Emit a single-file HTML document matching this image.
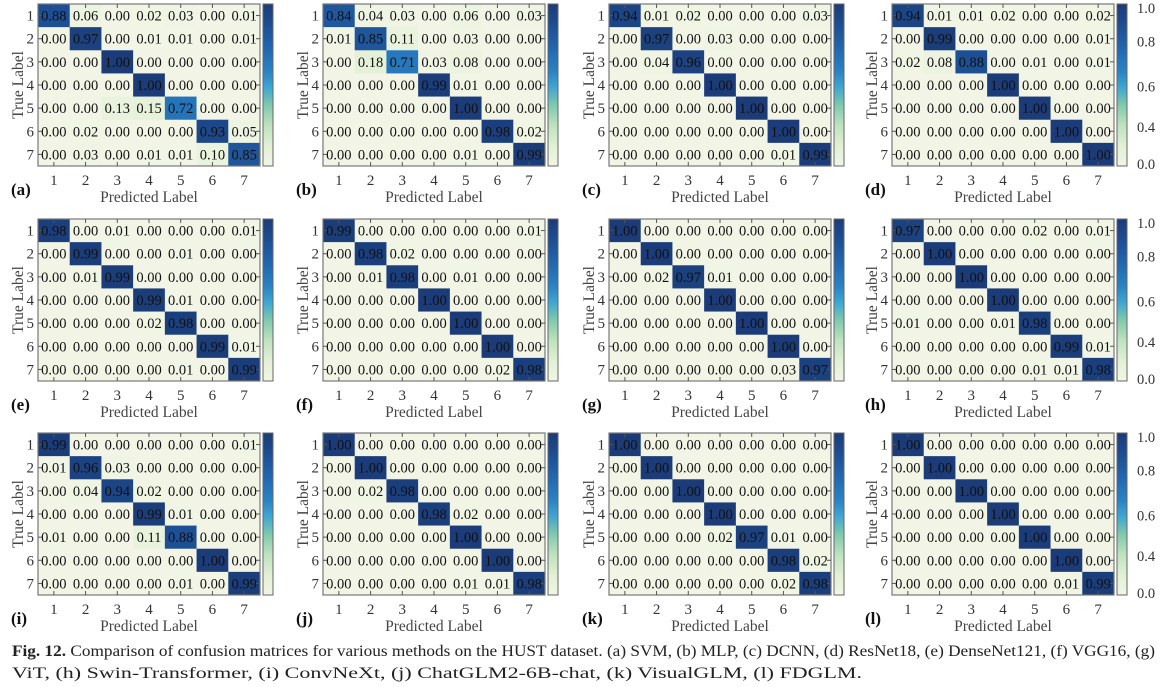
<!DOCTYPE html>
<html><head><meta charset="utf-8">
<style>
html,body{margin:0;padding:0;background:#fff;}
svg{display:block;font-family:"Liberation Serif",serif;}
</style></head>
<body>
<svg id="fig" width="1167" height="687" viewBox="0 0 1167 687"></svg>
<script>
const classLabels = ["1","2","3","4","5","6","7"];
const panelLetters = ["a","b","c","d","e","f","g","h","i","j","k","l"];
const matA = [[0.88,0.06,0.00,0.02,0.03,0.00,0.01],[0.00,0.97,0.00,0.01,0.01,0.00,0.01],[0.00,0.00,1.00,0.00,0.00,0.00,0.00],[0.00,0.00,0.00,1.00,0.00,0.00,0.00],[0.00,0.00,0.13,0.15,0.72,0.00,0.00],[0.00,0.02,0.00,0.00,0.00,0.93,0.05],[0.00,0.03,0.00,0.01,0.01,0.10,0.85]];
const matB = [[0.84,0.04,0.03,0.00,0.06,0.00,0.03],[0.01,0.85,0.11,0.00,0.03,0.00,0.00],[0.00,0.18,0.71,0.03,0.08,0.00,0.00],[0.00,0.00,0.00,0.99,0.01,0.00,0.00],[0.00,0.00,0.00,0.00,1.00,0.00,0.00],[0.00,0.00,0.00,0.00,0.00,0.98,0.02],[0.00,0.00,0.00,0.00,0.01,0.00,0.99]];
const matC = [[0.94,0.01,0.02,0.00,0.00,0.00,0.03],[0.00,0.97,0.00,0.03,0.00,0.00,0.00],[0.00,0.04,0.96,0.00,0.00,0.00,0.00],[0.00,0.00,0.00,1.00,0.00,0.00,0.00],[0.00,0.00,0.00,0.00,1.00,0.00,0.00],[0.00,0.00,0.00,0.00,0.00,1.00,0.00],[0.00,0.00,0.00,0.00,0.00,0.01,0.99]];
const matD = [[0.94,0.01,0.01,0.02,0.00,0.00,0.02],[0.00,0.99,0.00,0.00,0.00,0.00,0.01],[0.02,0.08,0.88,0.00,0.01,0.00,0.01],[0.00,0.00,0.00,1.00,0.00,0.00,0.00],[0.00,0.00,0.00,0.00,1.00,0.00,0.00],[0.00,0.00,0.00,0.00,0.00,1.00,0.00],[0.00,0.00,0.00,0.00,0.00,0.00,1.00]];
const matE = [[0.98,0.00,0.01,0.00,0.00,0.00,0.01],[0.00,0.99,0.00,0.00,0.01,0.00,0.00],[0.00,0.01,0.99,0.00,0.00,0.00,0.00],[0.00,0.00,0.00,0.99,0.01,0.00,0.00],[0.00,0.00,0.00,0.02,0.98,0.00,0.00],[0.00,0.00,0.00,0.00,0.00,0.99,0.01],[0.00,0.00,0.00,0.00,0.01,0.00,0.99]];
const matF = [[0.99,0.00,0.00,0.00,0.00,0.00,0.01],[0.00,0.98,0.02,0.00,0.00,0.00,0.00],[0.00,0.01,0.98,0.00,0.01,0.00,0.00],[0.00,0.00,0.00,1.00,0.00,0.00,0.00],[0.00,0.00,0.00,0.00,1.00,0.00,0.00],[0.00,0.00,0.00,0.00,0.00,1.00,0.00],[0.00,0.00,0.00,0.00,0.00,0.02,0.98]];
const matG = [[1.00,0.00,0.00,0.00,0.00,0.00,0.00],[0.00,1.00,0.00,0.00,0.00,0.00,0.00],[0.00,0.02,0.97,0.01,0.00,0.00,0.00],[0.00,0.00,0.00,1.00,0.00,0.00,0.00],[0.00,0.00,0.00,0.00,1.00,0.00,0.00],[0.00,0.00,0.00,0.00,0.00,1.00,0.00],[0.00,0.00,0.00,0.00,0.00,0.03,0.97]];
const matH = [[0.97,0.00,0.00,0.00,0.02,0.00,0.01],[0.00,1.00,0.00,0.00,0.00,0.00,0.00],[0.00,0.00,1.00,0.00,0.00,0.00,0.00],[0.00,0.00,0.00,1.00,0.00,0.00,0.00],[0.01,0.00,0.00,0.01,0.98,0.00,0.00],[0.00,0.00,0.00,0.00,0.00,0.99,0.01],[0.00,0.00,0.00,0.00,0.01,0.01,0.98]];
const matI = [[0.99,0.00,0.00,0.00,0.00,0.00,0.01],[0.01,0.96,0.03,0.00,0.00,0.00,0.00],[0.00,0.04,0.94,0.02,0.00,0.00,0.00],[0.00,0.00,0.00,0.99,0.01,0.00,0.00],[0.01,0.00,0.00,0.11,0.88,0.00,0.00],[0.00,0.00,0.00,0.00,0.00,1.00,0.00],[0.00,0.00,0.00,0.00,0.01,0.00,0.99]];
const matJ = [[1.00,0.00,0.00,0.00,0.00,0.00,0.00],[0.00,1.00,0.00,0.00,0.00,0.00,0.00],[0.00,0.02,0.98,0.00,0.00,0.00,0.00],[0.00,0.00,0.00,0.98,0.02,0.00,0.00],[0.00,0.00,0.00,0.00,1.00,0.00,0.00],[0.00,0.00,0.00,0.00,0.00,1.00,0.00],[0.00,0.00,0.00,0.00,0.01,0.01,0.98]];
const matK = [[1.00,0.00,0.00,0.00,0.00,0.00,0.00],[0.00,1.00,0.00,0.00,0.00,0.00,0.00],[0.00,0.00,1.00,0.00,0.00,0.00,0.00],[0.00,0.00,0.00,1.00,0.00,0.00,0.00],[0.00,0.00,0.00,0.02,0.97,0.01,0.00],[0.00,0.00,0.00,0.00,0.00,0.98,0.02],[0.00,0.00,0.00,0.00,0.00,0.02,0.98]];
const matL = [[1.00,0.00,0.00,0.00,0.00,0.00,0.00],[0.00,1.00,0.00,0.00,0.00,0.00,0.00],[0.00,0.00,1.00,0.00,0.00,0.00,0.00],[0.00,0.00,0.00,1.00,0.00,0.00,0.00],[0.00,0.00,0.00,0.00,1.00,0.00,0.00],[0.00,0.00,0.00,0.00,0.00,1.00,0.00],[0.00,0.00,0.00,0.00,0.00,0.01,0.99]];
const colorbarTickValues = [1.0, 0.8, 0.6, 0.4, 0.0];
const colorbarTickLabels = ["1.0","0.8","0.6","0.4","0.0"];

const mats=[matA,matB,matC,matD,matE,matF,matG,matH,matI,matJ,matK,matL];
const NS="http://www.w3.org/2000/svg";
const svg=document.getElementById("fig");
function mk(tag,attrs,parent){const e=document.createElementNS(NS,tag);for(const k in attrs)e.setAttribute(k,attrs[k]);(parent||svg).appendChild(e);return e;}
const normV=[0,0.4,0.6,0.8,1], normP=[0,0.24,0.49,0.77,1];
function norm(v){for(let i=1;i<normV.length;i++){if(v<=normV[i]){const t=(v-normV[i-1])/(normV[i]-normV[i-1]);return normP[i-1]+t*(normP[i]-normP[i-1]);}}return 1;}
const stops=[[0,[242,245,230]],[0.12,[226,240,214]],[0.25,[190,226,190]],[0.38,[125,200,172]],[0.48,[64,168,210]],[0.58,[42,132,196]],[0.72,[33,104,176]],[0.88,[29,76,144]],[1,[27,60,120]]];
function col(p){for(let i=1;i<stops.length;i++){if(p<=stops[i][0]){const t=(p-stops[i-1][0])/(stops[i][0]-stops[i-1][0]);const a=stops[i-1][1],b=stops[i][1];return "rgb("+a.map((x,j)=>Math.round(x+t*(b[j]-x))).join(",")+")";}}return "rgb(27,60,120)";}
const defs=mk("defs",{});const lg=mk("linearGradient",{id:"cbg",x1:"0",y1:"1",x2:"0",y2:"0"},defs);
stops.forEach(s=>mk("stop",{offset:s[0],"stop-color":col(s[0])},lg));

const colX=[38,323,609,892], rowY=[4,219,433];
const W=222,H=162,n=7,cw=W/n,ch=H/n;
function xScale(j){return j*cw;} function yScale(i){return i*ch;}
function cbY(v){return H*(1-norm(v));}

mats.forEach((m,k)=>{
  const x0=colX[k%4], y0=rowY[Math.floor(k/4)];
  const g=mk("g",{transform:`translate(${x0},${y0})`});
  
  
  m.forEach((row,i)=>row.forEach((v,j)=>{
    const r=mk("rect",{x:xScale(j),y:yScale(i),width:cw+0.3,height:ch+0.3,fill:col(norm(v))},g);
    
    
    const t=mk("text",{x:xScale(j)+cw/2,y:yScale(i)+ch/2+5,"text-anchor":"middle","font-size":"14.5",fill:"#111"},g);
    
    
    t.textContent=v.toFixed(2);
  }));
  mk("rect",{x:0,y:0,width:W,height:H,fill:"none",stroke:"#777","stroke-width":1.2},g);
  classLabels.forEach((lab,i)=>{
    const cx=xScale(i)+cw/2, cy=yScale(i)+ch/2;
    mk("line",{x1:cx,y1:0,x2:cx,y2:4,stroke:"#555"},g);
    mk("line",{x1:cx,y1:H,x2:cx,y2:H-4,stroke:"#555"},g);
    mk("line",{x1:0,y1:cy,x2:4,y2:cy,stroke:"#555"},g);
    mk("line",{x1:W,y1:cy,x2:W-4,y2:cy,stroke:"#555"},g);
    const tx=mk("text",{x:cx,y:H+19,"text-anchor":"middle","font-size":"15",fill:"#333"},g);
    
    
    tx.textContent=lab;
    const ty=mk("text",{x:-4,y:cy+5,"text-anchor":"end","font-size":"15",fill:"#333"},g);
    
    
    ty.textContent=lab;
  });
  const xl=mk("text",{x:W/2,y:H+36,"text-anchor":"middle","font-size":"15.5",fill:"#444"},g);
  
  
  xl.textContent="Predicted Label";
  const yl=mk("text",{x:0,y:0,"text-anchor":"middle","font-size":"15.5",fill:"#444",transform:`translate(-15,${H/2}) rotate(-90)`},g);
  
  
  yl.textContent="True Label";
  const pl=mk("text",{x:-27,y:H+29,"font-size":"17","font-weight":"bold",fill:"#111"},g);
  
  
  pl.textContent="("+panelLetters[k]+")";
  const cb=mk("rect",{x:W+3,y:0,width:10,height:H,fill:"url(#cbg)",stroke:"#666","stroke-width":1},g);
  
  
  if(k%4===3){
    colorbarTickValues.forEach((v,i)=>{
      const yy=Math.min(Math.max(cbY(v),4),H-2);
      const ct=mk("text",{x:W+23,y:yy+5,"font-size":"14.5",fill:"#333"},g);
      
      
      ct.textContent=colorbarTickLabels[i];
    });
  }
});
const c1=mk("text",{x:12,y:656,"font-size":"15.5",fill:"#222",textLength:"1143",lengthAdjust:"spacingAndGlyphs"});


c1.innerHTML='<tspan font-weight="bold">Fig. 12.</tspan>  Comparison of confusion matrices for various methods on the HUST dataset. (a) SVM, (b) MLP, (c) DCNN, (d) ResNet18, (e) DenseNet121, (f) VGG16, (g)';
const c2=mk("text",{x:12,y:678,"font-size":"15.5",fill:"#222",textLength:"850",lengthAdjust:"spacingAndGlyphs"});


c2.textContent='ViT, (h) Swin-Transformer, (i) ConvNeXt, (j) ChatGLM2-6B-chat, (k) VisualGLM, (l) FDGLM.';
</script>
</body></html>
